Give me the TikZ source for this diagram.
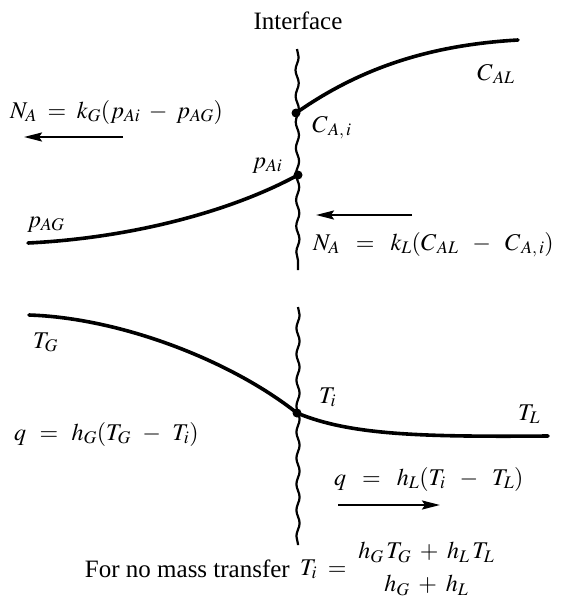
\documentclass[tikz,border=0pt]{standalone}
\usepackage{mathptmx}
\usepackage{fontspec}
\setmainfont{Liberation Serif}
\usetikzlibrary{decorations.pathmorphing,arrows.meta}
\tikzset{
  lbl/.style={font=\fontsize{24}{28}\selectfont, inner sep=0pt, anchor=base west},
  txt/.style={font=\fontsize{25}{29}\selectfont, inner sep=0pt},
  wavy/.style={line width=2.2pt, decorate, decoration={snake, segment length=26pt, amplitude=1.6pt}},
  curve/.style={line width=3.6pt, line cap=round},
  flux/.style={line width=2.2pt, -{Stealth[length=18pt,width=9pt,inset=3pt]}},
  dotmark/.style={circle, fill=black, inner sep=0pt, minimum size=9pt}
}
\begin{document}
\begin{tikzpicture}[x=1pt,y=-1pt]
\useasboundingbox (0,0) rectangle (570,603);
% interface lines
\node[txt, anchor=base] (iface) at (298,29) {Interface};
\coordinate (w1t) at (297,49);
\coordinate (w1b) at (298,270);
\coordinate (w2t) at (298,307);
\coordinate (w2b) at (298,545);
\draw[wavy] (w1t) -- (w1b);
\draw[wavy] (w2t) -- (w2b);
% interface points
\node[dotmark] (cai) at (296,113) {};
\node[dotmark] (pai) at (298,175) {};
\node[dotmark] (ti) at (297,413) {};
% end points
\coordinate (cal) at (518,40);
\coordinate (pag) at (28,243);
\coordinate (tg) at (29,315);
\coordinate (tl) at (548,436);
% profiles
\draw[curve] (cai.center) .. controls (360,68) and (430,45) .. (cal);
\draw[curve] (pag) .. controls (130,238) and (230,212) .. (pai.center);
\draw[curve] (tg) .. controls (120,318) and (230,360) .. (ti.center);
\draw[curve] (ti.center) .. controls (350,435) and (420,437) .. (tl);
% labels
\node[lbl] (lcal) at (477,80) {$C_{\,AL}$};
\node[lbl] (lcai) at (312,132) {$C_{\,A,\,i}$};
\node[lbl] (lpai) at (252,168) {$p_{Ai}$};
\node[lbl] (lpag) at (27,227) {$p_{AG}$};
\node[lbl] (eqg) at (10,118) {$N_A\;=\;k_G(p_{Ai}\;-\;p_{AG})$};
\node[lbl] (eql) at (313,250) {$N_A\;\;=\;\;k_L(C_{\,AL}\;\;-\;\;C_{\,A,\,i})$};
\coordinate (a1s) at (123,137);
\coordinate (a1e) at (24,137);
\coordinate (a2s) at (412,215);
\coordinate (a2e) at (316,215);
\draw[flux] (a1s) -- (a1e);
\draw[flux] (a2s) -- (a2e);
\node[lbl] (ltg) at (33,348) {$T_G$};
\node[lbl] (lti) at (319,403) {$T_i$};
\node[lbl] (ltl) at (518,420) {$T_L$};
\node[lbl] (eqhg) at (14,440) {$q\;\,=\;\,h_G(T_G\;\,-\;\,T_i)$};
\node[lbl] (eqhl) at (334,485) {$q\;\;=\;\;h_L(T_i\;\;-\;\;T_L)$};
\coordinate (a3s) at (338,505);
\coordinate (a3e) at (440,505);
\draw[flux] (a3s) -- (a3e);
\node[txt, anchor=base east] (nomass) at (290,577) {For no mass transfer};
\node[lbl] (tifrac) at (300,575) {$T_i\;=\;{\displaystyle {h_G\,T_G\;+\;h_L\,T_L \atop h_G\;+\;h_L}}$};
\end{tikzpicture}
\end{document}
